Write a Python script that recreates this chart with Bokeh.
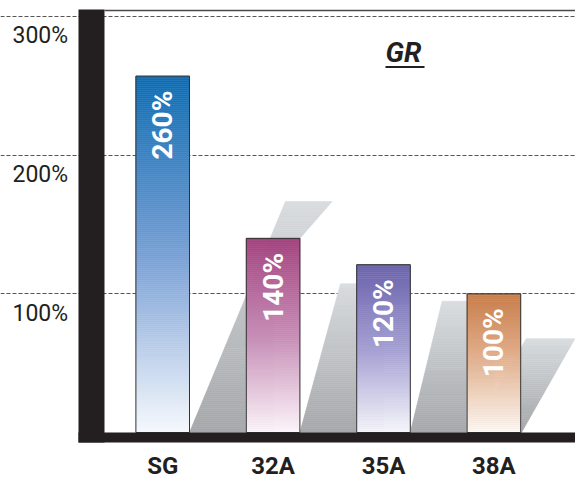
import numpy as np
from bokeh.plotting import figure
from bokeh.models import Range1d, FixedTicker, Grid
from bokeh.core.properties import value
from bokeh.embed import file_html
from bokeh.resources import INLINE

# ---------------- data ----------------
categories = ["SG", "32A", "35A", "38A"]
bar_values = [257, 140, 121, 100]
bar_labels = ["260%", "140%", "120%", "100%"]
y_ticks = [100, 200, 300]
y_tick_labels = ["100%", "200%", "300%"]
title_text = "GR"

# ---------------- styles ----------------
top_colors = ["#0b6cb4", "#a4427f", "#6b63ac", "#c87e4c"]
mid_colors = ["#78a0d6", "#c78cb6", "#a4a0d2", "#e5b594"]
bottom_colors = ["#f6f8fd", "#fcf5fa", "#f6f5fb", "#fef9f4"]
shadow_top_color = "#d8dcdf"
shadow_bottom_color = "#a5a7aa"
# slanted shadows: height (value units); offsets in px from bar right edge
shadow_height = [166.6, 107.2, 94.7, 67.6]
shadow_bl_px = [0, 0, 0, -47.8]
shadow_tl_px = [96, 40.6, 31.9, 5.5]
shadow_w_px = [46.7, 48, 48, 48.6]
INK = "#231f20"
FONT = value("Roboto")

W, H = 575, 477
X0PX, DXPX = 162.2, 110.4
Y0PX, PXU = 432.0, 416.0 / 300.0


def px2x(px):
    return (px - X0PX) / DXPX


def py2y(py):
    return (Y0PX - py) / PXU


def hex2rgb(h):
    h = h.lstrip("#")
    return np.array([int(h[i:i + 2], 16) for i in (0, 2, 4)], dtype=float)


def rgb2hex(c):
    c = np.clip(np.round(c), 0, 255).astype(int)
    return "#%02x%02x%02x" % tuple(c)


def grad3(t, bottom, mid, top):
    b, m, tp = hex2rgb(bottom), hex2rgb(mid), hex2rgb(top)
    if t < 0.5:
        return rgb2hex(b + (m - b) * (t / 0.5))
    return rgb2hex(m + (tp - m) * ((t - 0.5) / 0.5))


p = figure(width=W, height=H, min_border=0, toolbar_location=None,
           output_backend="svg", x_axis_location=None, y_axis_location=None,
           x_range=Range1d(px2x(0), px2x(W)), y_range=Range1d(py2y(H), py2y(0)),
           outline_line_color=None, background_fill_color="white",
           border_fill_color="white")
p.grid.visible = False

grid = Grid(dimension=1, ticker=FixedTicker(ticks=y_ticks),
            bounds=(px2x(12), px2x(W)), grid_line_color="#555555",
            grid_line_width=1, grid_line_dash="4 2")
p.add_layout(grid)

HW = 26.8 / DXPX
idx = list(range(len(categories)))

# ---------------- shadows (slanted shapes with vertical gradient) ----------------
sxs, sys_, scol = [], [], []
cb, ct = hex2rgb(shadow_bottom_color), hex2rgb(shadow_top_color)
for i in idx:
    edge = i + HW
    h = shadow_height[i]
    bl = edge + shadow_bl_px[i] / DXPX
    tl = edge + shadow_tl_px[i] / DXPX
    w = shadow_w_px[i] / DXPX
    tr = tl + w

    if i + 1 < len(idx):
        nxt = i + 1
        nv = bar_values[nxt]

        def right(y, nxt=nxt, nv=nv, h=h, tr=tr):
            inner = nxt  # hidden behind the next bar
            if h > nv:
                corner = nxt + HW
                xr = tr - (h - y) * (tr - corner) / (h - nv)
                return max(xr, inner)
            return inner
    else:
        def right(y, bl=bl, tl=tl, h=h, w=w):
            return bl + (tl - bl) * y / h + w

    n = max(int(h * PXU / 2), 2)
    levels = np.linspace(0, h, n + 1)
    for k in range(n):
        ya, yb = levels[k], levels[k + 1]
        la = bl + (tl - bl) * ya / h
        lb = bl + (tl - bl) * yb / h
        sxs.append([la, right(ya), right(yb), lb])
        sys_.append([ya, ya, yb, yb])
        t = (ya + yb) / 2 / h
        scol.append(rgb2hex(cb + (ct - cb) * t))
p.patches(xs=sxs, ys=sys_, fill_color=scol, line_color=scol, line_width=0.6)

# ---------------- bars (vertical gradient) ----------------
ql, qr, qt, qb, qc = [], [], [], [], []
for i in idx:
    v = bar_values[i]
    n = max(int(v * PXU / 2), 2)
    levels = np.linspace(0, v, n + 1)
    for k in range(n):
        ql.append(i - HW)
        qr.append(i + HW)
        qb.append(levels[k])
        qt.append(levels[k + 1])
        qc.append(grad3((levels[k] + levels[k + 1]) / 2 / v,
                        bottom_colors[i], mid_colors[i], top_colors[i]))
p.quad(left=ql, right=qr, top=qt, bottom=qb, fill_color=qc, line_color=qc,
       line_width=0.6)
p.quad(left=[i - HW for i in idx], right=[i + HW for i in idx],
       top=bar_values, bottom=[0] * len(idx), fill_color=None,
       line_color="#333333", line_width=1)

# ---------------- black frame pieces ----------------
p.quad(left=[px2x(78)], right=[px2x(104)], bottom=[py2y(442)], top=[py2y(9)],
       fill_color=INK, line_color=None)
p.quad(left=[px2x(78)], right=[px2x(W + 2)], bottom=[py2y(442)], top=[0],
       fill_color=INK, line_color=None)
p.segment(x0=[px2x(104)], x1=[px2x(W)], y0=[py2y(10)], y1=[py2y(10)],
          line_color="#4a4a4a", line_width=1.6)

# ---------------- texts ----------------
p.text(x=idx, y=bar_values, text=bar_labels, angle=np.pi / 2,
       text_align="right", text_baseline="middle", y_offset=14.5,
       text_color="white", text_font=FONT, text_font_style="bold",
       text_font_size="28px")

p.text(x=idx, y=[0] * len(idx), text=categories, y_offset=33,
       text_align="center", text_baseline="alphabetic", text_color=INK,
       text_font=FONT, text_font_style="bold", text_font_size="24px")

p.text(x=[px2x(12)] * len(y_ticks), y=y_ticks, text=y_tick_labels, y_offset=19.2,
       text_align="left", text_baseline="alphabetic", text_color=INK,
       text_font=FONT, text_font_size="23px")

p.text(x=[px2x(385)], y=[py2y(51.5)], text=[title_text], text_align="left",
       text_baseline="alphabetic", text_color=INK, text_font=FONT,
       text_font_style="bold italic", text_font_size="28px")
p.segment(x0=[px2x(385)], x1=[px2x(424)], y0=[py2y(66.5)], y1=[py2y(66.5)],
          line_color=INK, line_width=2)

open("out.html", "w").write(file_html(p, INLINE))
